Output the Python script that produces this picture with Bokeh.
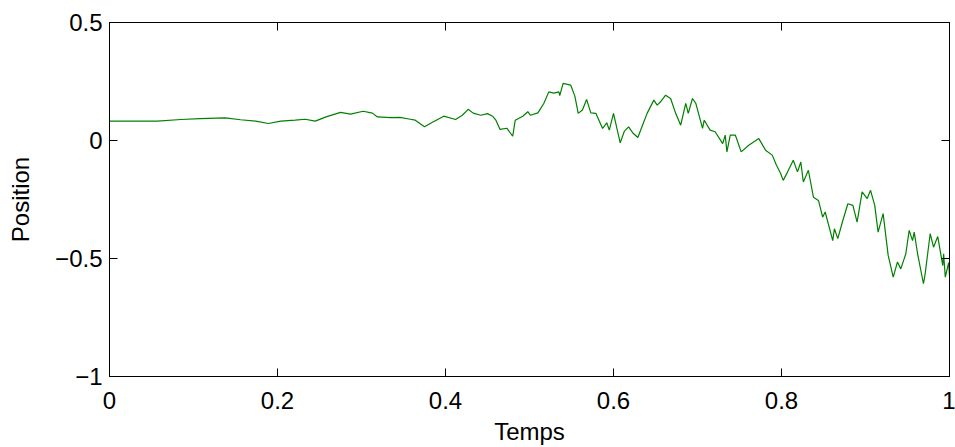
from bokeh.plotting import figure
from bokeh.models import LinearAxis, FixedTicker, Range1d, CustomLabelingPolicy
from bokeh.embed import file_html
from bokeh.resources import INLINE

# Time values (Temps) and position values
temps = [0.000, 0.057, 0.085, 0.108, 0.138, 0.156, 0.174, 0.189, 0.204, 0.221,
         0.233, 0.245, 0.257, 0.275, 0.287, 0.302, 0.313, 0.319, 0.335, 0.346,
         0.358, 0.364, 0.375, 0.385, 0.398, 0.412, 0.420, 0.427, 0.433, 0.442,
         0.450, 0.456, 0.460, 0.465, 0.473, 0.480, 0.483, 0.492, 0.498, 0.501,
         0.510, 0.517, 0.523, 0.529, 0.535, 0.536, 0.540, 0.549, 0.554, 0.558,
         0.563, 0.568, 0.573, 0.579, 0.587, 0.592, 0.595, 0.600, 0.605, 0.608,
         0.613, 0.618, 0.623, 0.629, 0.635, 0.640, 0.648, 0.652, 0.656, 0.662,
         0.668, 0.674, 0.680, 0.686, 0.689, 0.694, 0.698, 0.706, 0.708, 0.715,
         0.721, 0.730, 0.733, 0.735, 0.739, 0.745, 0.752, 0.761, 0.773, 0.781,
         0.789, 0.794, 0.799, 0.802, 0.807, 0.814, 0.819, 0.823, 0.826, 0.832,
         0.838, 0.844, 0.849, 0.852, 0.861, 0.863, 0.867, 0.873, 0.879, 0.885,
         0.890, 0.896, 0.902, 0.906, 0.911, 0.915, 0.921, 0.927, 0.933, 0.938,
         0.942, 0.948, 0.952, 0.956, 0.958, 0.962, 0.969, 0.971, 0.977, 0.981,
         0.986, 0.992, 0.993, 0.995, 0.999, 1.000]
position = [0.082, 0.082, 0.089, 0.093, 0.096, 0.088, 0.082, 0.072, 0.082, 0.086,
            0.090, 0.082, 0.099, 0.119, 0.112, 0.124, 0.116, 0.100, 0.097, 0.098,
            0.090, 0.086, 0.058, 0.078, 0.103, 0.089, 0.107, 0.132, 0.116, 0.107,
            0.114, 0.103, 0.086, 0.047, 0.052, 0.018, 0.086, 0.103, 0.122, 0.107,
            0.117, 0.157, 0.206, 0.201, 0.206, 0.190, 0.242, 0.235, 0.188, 0.115,
            0.129, 0.174, 0.117, 0.115, 0.051, 0.075, 0.044, 0.115, 0.037, -0.010,
            0.040, 0.058, 0.032, 0.013, 0.069, 0.115, 0.171, 0.150, 0.164, 0.192,
            0.178, 0.115, 0.065, 0.157, 0.115, 0.178, 0.157, 0.051, 0.086, 0.044,
            0.037, -0.013, 0.023, -0.048, 0.023, 0.023, -0.048, -0.020, 0.008, -0.041,
            -0.062, -0.105, -0.140, -0.169, -0.135, -0.084, -0.133, -0.091, -0.176, -0.126,
            -0.240, -0.254, -0.325, -0.303, -0.424, -0.374, -0.416, -0.339, -0.268, -0.275,
            -0.346, -0.218, -0.246, -0.211, -0.275, -0.388, -0.310, -0.487, -0.579, -0.515,
            -0.544, -0.480, -0.381, -0.424, -0.388, -0.480, -0.607, -0.565, -0.395, -0.452,
            -0.407, -0.530, -0.480, -0.579, -0.517, -0.572]

x_ticks = [0, 0.2, 0.4, 0.6, 0.8, 1]
x_tick_labels = ["0", "0.2", "0.4", "0.6", "0.8", "1"]
y_ticks = [-1, -0.5, 0, 0.5]
y_tick_labels = ["\u22121", "\u22120.5", "0", "0.5"]
x_title = "Temps"
y_title = "Position"

FONT = "Liberation Sans"
FS = "24px"

p = figure(width=955, height=447, output_backend="svg", toolbar_location=None,
           x_range=Range1d(0, 1), y_range=Range1d(-1, 0.5),
           min_border_left=109, min_border_right=6, min_border_top=22,
           min_border_bottom=71)
p.background_fill_color = "white"
p.border_fill_color = "white"
p.outline_line_color = "black"
p.outline_line_width = 1
p.xgrid.visible = False
p.ygrid.visible = False

p.line(temps, position, line_color="#008000", line_width=1.2)

no_labels = CustomLabelingPolicy(
    code="for (let i = 0; i < indices.size; i++) { indices.unset(i) } return indices")


def style(ax, ticks, labels, show_labels=True):
    ax.ticker = FixedTicker(ticks=ticks)
    ax.major_tick_in = 8
    ax.major_tick_out = 0
    ax.minor_tick_line_color = None
    ax.major_tick_line_color = "black"
    ax.axis_line_color = "black"
    ax.major_label_text_font = FONT
    ax.major_label_text_color = "black"
    if show_labels:
        ax.major_label_overrides = {t: l for t, l in zip(ticks, labels)}
        ax.major_label_text_font_size = FS
    else:
        ax.major_label_policy = no_labels
        ax.major_label_text_font_size = "0px"
        ax.major_label_standoff = 0


def style_title(ax, text, standoff):
    ax.axis_label = text
    ax.axis_label_text_font = FONT
    ax.axis_label_text_font_size = FS
    ax.axis_label_text_font_style = "normal"
    ax.axis_label_text_color = "black"
    ax.axis_label_standoff = standoff


xa = p.xaxis[0]
style(xa, x_ticks, x_tick_labels)
xa.major_label_standoff = 15
style_title(xa, x_title, 6)

ya = p.yaxis[0]
style(ya, y_ticks, y_tick_labels)
ya.major_label_standoff = 7
style_title(ya, y_title, 18)

top = LinearAxis()
style(top, x_ticks, x_tick_labels, show_labels=False)
p.add_layout(top, "above")
right = LinearAxis()
style(right, y_ticks, y_tick_labels, show_labels=False)
p.add_layout(right, "right")

open("out.html", "w").write(file_html(p, INLINE))
